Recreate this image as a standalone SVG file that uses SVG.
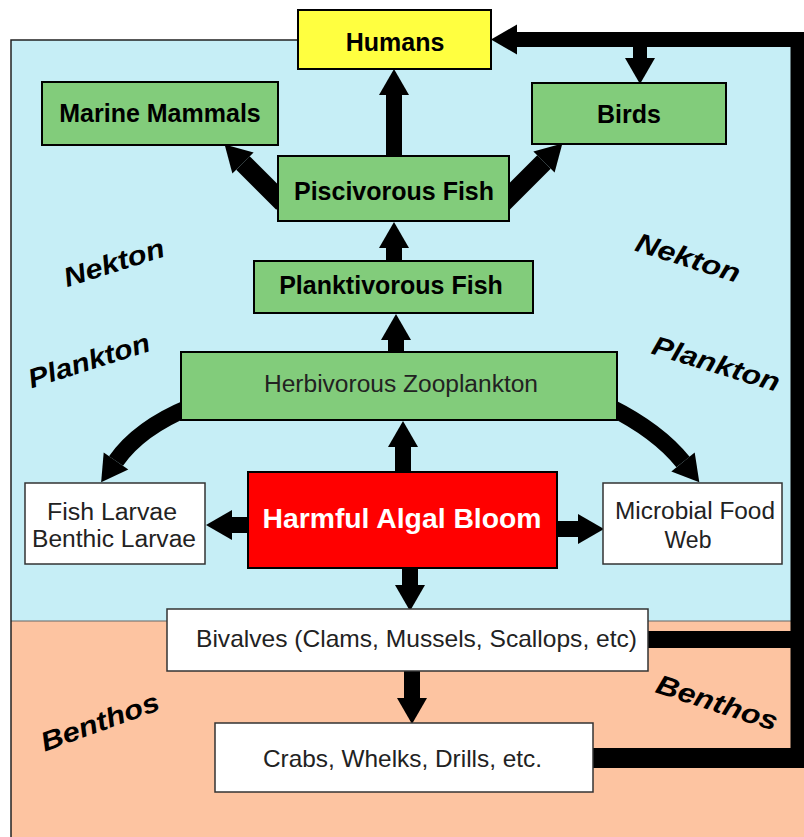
<svg xmlns="http://www.w3.org/2000/svg" width="804" height="837" viewBox="0 0 804 837">
<defs>
<style>
.g{fill:#82cc7b;stroke:#000;stroke-width:2}
.w{fill:#fff;stroke:#333;stroke-width:1.5}
.bt{font-family:"Liberation Sans",Arial,sans-serif;font-weight:bold;font-size:25px;fill:#000;text-anchor:middle}
.rt{font-family:"Liberation Sans",Arial,sans-serif;font-size:23px;fill:#222;text-anchor:middle}
.zt{font-family:"Liberation Sans",Arial,sans-serif;font-weight:bold;font-style:italic;font-size:27px;fill:#000;text-anchor:middle}
.c{fill:none;stroke:#000;stroke-width:16;marker-end:url(#ah)}
.k{fill:none;stroke:#000}
</style>
<marker id="ah" markerUnits="userSpaceOnUse" markerWidth="28" markerHeight="32" viewBox="0 -16 28 32" refX="0" refY="0" orient="auto" overflow="visible">
<path d="M0,-15 L26,0 L0,15 z" fill="#000"/>
</marker>
</defs>
<rect x="0" y="0" width="804" height="837" fill="#fff"/>
<rect x="11" y="40" width="787" height="581" fill="#c6eef6"/>
<rect x="11" y="621" width="793" height="216" fill="#fdc4a1"/>
<line x1="11" y1="621" x2="798" y2="621" stroke="#666" stroke-width="1"/>
<path d="M11 837 V40 H300" fill="none" stroke="#222" stroke-width="1.5"/>

<g id="zone-labels">
<text class="zt" transform="translate(114,263) rotate(-17.5)" x="0" y="9" textLength="104" lengthAdjust="spacingAndGlyphs">Nekton</text>
<text class="zt" transform="translate(89,361) rotate(-17.5)" x="0" y="9" textLength="126" lengthAdjust="spacingAndGlyphs">Plankton</text>
<text class="zt" transform="translate(688,258) rotate(17.5)" x="0" y="9" textLength="108" lengthAdjust="spacingAndGlyphs">Nekton</text>
<text class="zt" transform="translate(716,364) rotate(17)" x="0" y="9" textLength="132" lengthAdjust="spacingAndGlyphs">Plankton</text>
<text class="zt" transform="translate(100,722) rotate(-20)" x="0" y="9" textLength="124" lengthAdjust="spacingAndGlyphs">Benthos</text>
<text class="zt" transform="translate(717,703) rotate(18)" x="0" y="9" textLength="126" lengthAdjust="spacingAndGlyphs">Benthos</text>
</g>

<g id="connectors">
<path class="c" d="M394 158 V95"/>
<path class="c" d="M394 262 V248"/>
<path class="c" d="M396 353 V340"/>
<path class="c" d="M403 473 V447"/>
<path class="c" d="M250 525 H232"/>
<path class="c" d="M557 529 H578"/>
<path class="c" d="M410 567 V585"/>
<path class="c" d="M412 670 V698"/>
<path class="c" style="stroke-width:19" d="M283 203 L243 163"/>
<path class="c" style="stroke-width:19" d="M503 203 L544 162"/>
<path class="c" style="stroke-width:17" d="M190 407 Q139 428 116 461"/>
<path class="c" style="stroke-width:17" d="M610 407 Q658 431 683 462"/>
<path class="k" stroke-width="20" d="M593 758 H798"/>
<path class="k" stroke-width="17" d="M648 639.5 H798"/>
<path class="k" stroke-width="14" d="M797.5 768 V32"/>
<path class="k" stroke-width="15" d="M804.5 39.5 H517" marker-end="url(#ah)"/>
<path class="c" style="stroke-width:14" d="M640 46 V58"/>
</g>

<g id="humans"><rect x="298" y="10" width="193" height="59" fill="#ffff40" stroke="#000" stroke-width="2"/><text class="bt" x="395" y="51">Humans</text></g>
<g id="marine-mammals"><rect class="g" x="42" y="82" width="236" height="63"/><text class="bt" x="160" y="122">Marine Mammals</text></g>
<g id="birds"><rect class="g" x="532" y="83" width="194" height="61"/><text class="bt" x="629" y="123">Birds</text></g>
<g id="piscivorous-fish"><rect class="g" x="278" y="156" width="231" height="65"/><text class="bt" x="394" y="200">Piscivorous Fish</text></g>
<g id="planktivorous-fish"><rect class="g" x="254" y="261" width="279" height="52"/><text class="bt" x="391" y="294">Planktivorous Fish</text></g>
<g id="herbivorous-zooplankton"><rect class="g" x="181" y="352" width="436" height="68"/><text class="rt" x="401" y="392" textLength="274" lengthAdjust="spacingAndGlyphs">Herbivorous Zooplankton</text></g>
<g id="harmful-algal-bloom"><rect x="248" y="472" width="309" height="96" fill="#ff0000" stroke="#000" stroke-width="2"/><text class="bt" style="fill:#fff;font-size:27.5px" x="402" y="528" textLength="279" lengthAdjust="spacingAndGlyphs">Harmful Algal Bloom</text></g>
<g id="larvae"><rect class="w" x="25" y="483" width="180" height="81"/><text class="rt" x="112" y="520" textLength="130" lengthAdjust="spacingAndGlyphs">Fish Larvae</text><text class="rt" x="114" y="547" textLength="164" lengthAdjust="spacingAndGlyphs">Benthic Larvae</text></g>
<g id="microbial-food-web"><rect class="w" x="603" y="483" width="179" height="81"/><text class="rt" x="695" y="519" textLength="160" lengthAdjust="spacingAndGlyphs">Microbial Food</text><text class="rt" x="688" y="548">Web</text></g>
<g id="bivalves"><rect class="w" x="167" y="609" width="481" height="62"/><text class="rt" style="font-size:24px" x="416.5" y="647" textLength="441" lengthAdjust="spacingAndGlyphs">Bivalves (Clams, Mussels, Scallops, etc)</text></g>
<g id="crabs"><rect class="w" x="215" y="723" width="378" height="69"/><text class="rt" style="font-size:24px" x="402.5" y="767" textLength="279" lengthAdjust="spacingAndGlyphs">Crabs, Whelks, Drills, etc.</text></g>
</svg>
